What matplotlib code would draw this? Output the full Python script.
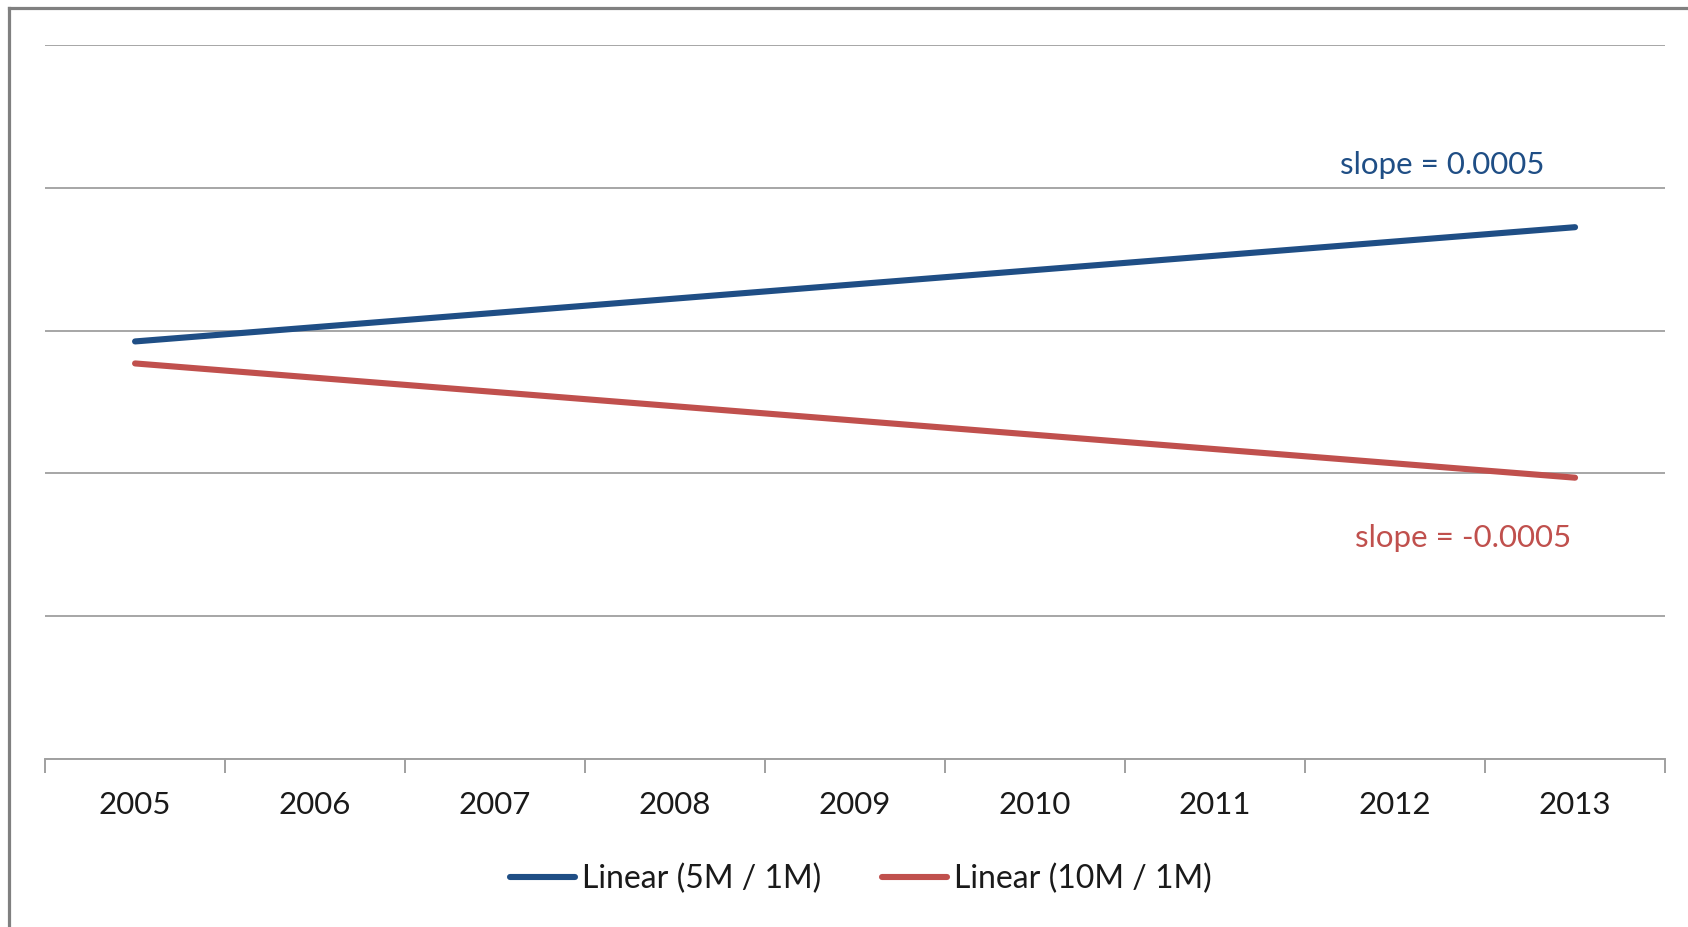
import numpy as np
import matplotlib.pyplot as plt
from matplotlib.lines import Line2D

## Data: linear trendlines of the two ratios
years = ["2005", "2006", "2007", "2008", "2009", "2010", "2011", "2012", "2013"]
series_names = ["Linear (5M / 1M)", "Linear (10M / 1M)"]
intercepts = [0.01462, 0.01385]  # trend value at 2005
slopes = [0.0005, -0.0005]       # change per year
slope_labels = ["slope = 0.0005", "slope = -0.0005"]
colors = ["#1F4E85", "#C0504D"]

plt.rcParams['font.family'] = ['Lato', 'DejaVu Sans']

fig = plt.figure(figsize=(16.88, 9.27), dpi=100)
ax = fig.add_axes([0.0267, 0.1812, 0.9597, 0.7703])

x = np.arange(len(years))
for b, m, c, name in zip(intercepts, slopes, colors, series_names):
    y = b + m * x
    ax.plot(x, y, color=c, lw=4.4, solid_capstyle="round", label=name)

## Slope annotations
ax.text(7.26, 0.0208, slope_labels[0], color=colors[0], fontsize=22.5,
        ha="center", va="center")
ax.text(7.38, 0.00774, slope_labels[1], color=colors[1], fontsize=22.5,
        ha="center", va="center")

ax.set_xlim(-0.5, len(years) - 0.5)
ax.set_ylim(0, 0.025)
ax.set_yticks(np.arange(0, 0.0251, 0.005))
ax.yaxis.grid(True, color="#A6A6A6", lw=1.4)
ax.tick_params(axis="y", left=False, labelleft=False)

# category labels centred, tick marks on the boundaries
ax.set_xticks(x)
ax.set_xticklabels(years, fontsize=22.5, color="#1A1A1A")
ax.set_xticks(np.arange(-0.5, len(years)), minor=True)
ax.tick_params(axis="x", which="major", length=0, pad=23)
ax.tick_params(axis="x", which="minor", length=10, width=1.4, color="#A0A0A0",
               direction="out")

for s in ["top", "right", "left"]:
    ax.spines[s].set_visible(False)
ax.spines["bottom"].set_color("#A0A0A0")
ax.spines["bottom"].set_linewidth(1.4)

leg = ax.legend(loc="center", bbox_to_anchor=(0.5035, -0.168), ncol=2, frameon=False,
                fontsize=23, handlelength=2.05, handletextpad=0.2,
                columnspacing=1.9)
for t in leg.get_texts():
    t.set_color("#1A1A1A")

## Chart frame (only top and left edges fall inside the image)
fig.add_artist(Line2D([0.0053, 0.0053], [0, 0.9914], color="#808080", lw=2.3,
                      transform=fig.transFigure))
fig.add_artist(Line2D([0.0053, 1.0], [0.9914, 0.9914], color="#808080", lw=2.3,
                      transform=fig.transFigure))

fig.savefig("out.png", dpi=100)
